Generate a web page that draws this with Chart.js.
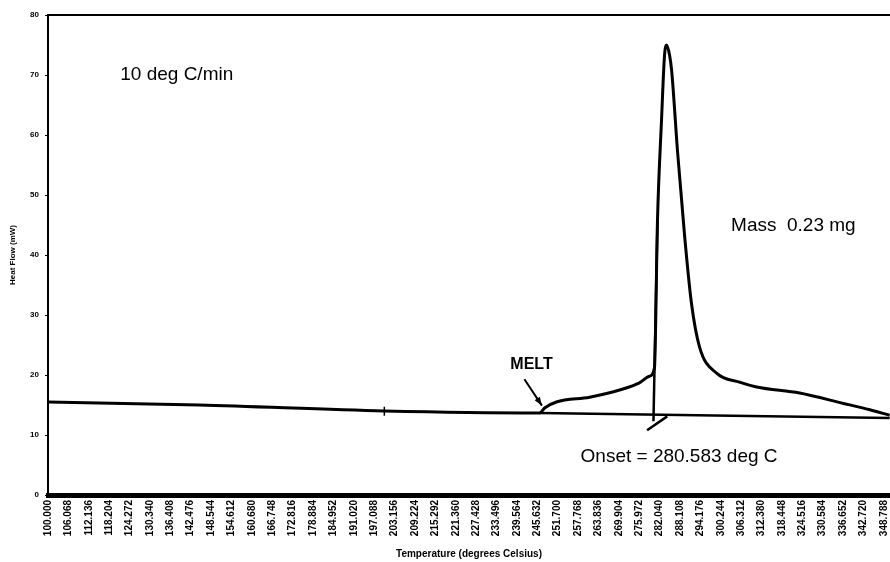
<!DOCTYPE html>
<html>
<head>
<meta charset="utf-8">
<script src="https://cdn.jsdelivr.net/npm/chart.js"></script>
<style>
  html, body { margin: 0; padding: 0; background: #fff; }
  #wrap { width: 890px; height: 562px; position: relative; }
</style>
</head>
<body>
<div id="wrap"><canvas id="dsc"></canvas></div>
<script>
// DSC trace
const temps = [100, 145.0, 200.1, 246.3, 247.8, 251.3, 261.2, 270.1, 276.0, 279.0, 280.5,
  281.4, 282.6, 283.5, 284.1, 285.0, 285.6, 287.4, 289.5, 291.5, 293.9, 299.0, 305.8,
  310.9, 323.7, 336.5, 344.6, 350.5];
const heatFlow = [15.5, 15.0, 14.0, 13.67, 14.5, 15.5, 16.3, 17.5, 18.7, 19.8, 21.2,
  45.8, 62.5, 73.3, 75.0, 73.3, 70.8, 57.0, 43.0, 32.0, 24.7, 20.3, 18.8,
  18.0, 17.0, 15.3, 14.2, 13.3];

// extrapolated baseline + onset construction
const baseTemps = [246.3, 350.5];
const baseFlow = [13.67, 12.83];
const tangentTemps = [280.2, 281.4];
const tangentFlow = [12.3, 45.8];
const slashTemps = [278.3, 284.3];
const slashFlow = [10.8, 13.1];
const markTemps = [200.1, 200.1];
const markFlow = [14.7, 13.2];

// x tick labels (hard to read on the scan, best estimates)
const tickLabels = ['100.000', '106.068', '112.136', '118.204', '124.272', '130.340', '136.408',
  '142.476', '148.544', '154.612', '160.680', '166.748', '172.816', '178.884', '184.952',
  '191.020', '197.088', '203.156', '209.224', '215.292', '221.360', '227.428', '233.496',
  '239.564', '245.632', '251.700', '257.768', '263.836', '269.904', '275.972', '282.040',
  '288.108', '294.176', '300.244', '306.312', '312.380', '318.448', '324.516', '330.584',
  '336.652', '342.720', '348.788'];
const tickValues = tickLabels.map(Number);

function pts(xs, ys) {
  return xs.map((x, i) => ({ x: x, y: ys[i] }));
}

// notes drawn on top of the plot
const notes = {
  id: 'notes',
  afterDraw(chart) {
    const { ctx, chartArea, scales } = chart;
    const x = scales.x, y = scales.y;
    ctx.save();
    // top frame line
    ctx.strokeStyle = '#000';
    ctx.lineWidth = 2;
    ctx.beginPath();
    ctx.moveTo(chartArea.left, chartArea.top);
    ctx.lineTo(chartArea.right, chartArea.top);
    ctx.stroke();

    ctx.fillStyle = '#000';
    ctx.textBaseline = 'middle';
    ctx.font = '19px "Liberation Sans", Arial, sans-serif';
    ctx.fillText('10 deg C/min', x.getPixelForValue(121.5), y.getPixelForValue(70));
    ctx.fillText('Mass  0.23 mg', x.getPixelForValue(303.3), y.getPixelForValue(44.8));
    ctx.fillText('Onset = 280.583 deg C', x.getPixelForValue(258.5), y.getPixelForValue(6.3));
    ctx.font = 'bold 16px "Liberation Sans", Arial, sans-serif';
    ctx.fillText('MELT', x.getPixelForValue(237.6), y.getPixelForValue(21.7));

    // arrow to the melt point
    const x0 = x.getPixelForValue(241.8), y0 = y.getPixelForValue(19.3);
    const x1 = x.getPixelForValue(247.0), y1 = y.getPixelForValue(14.9);
    ctx.lineWidth = 2;
    ctx.beginPath();
    ctx.moveTo(x0, y0);
    ctx.lineTo(x1, y1);
    ctx.stroke();
    const a = Math.atan2(y1 - y0, x1 - x0);
    ctx.beginPath();
    ctx.moveTo(x1, y1);
    ctx.lineTo(x1 - 9 * Math.cos(a - 0.35), y1 - 9 * Math.sin(a - 0.35));
    ctx.lineTo(x1 - 9 * Math.cos(a + 0.35), y1 - 9 * Math.sin(a + 0.35));
    ctx.closePath();
    ctx.fill();
    ctx.restore();
  }
};

const lineStyle = {
  borderColor: '#000',
  pointRadius: 0,
  fill: false
};

const font = '"Liberation Sans", Arial, sans-serif';

new Chart(document.getElementById('dsc'), {
  type: 'line',
  data: {
    datasets: [
      Object.assign({ data: pts(temps, heatFlow), borderWidth: 3, cubicInterpolationMode: 'monotone' }, lineStyle),
      Object.assign({ data: pts(baseTemps, baseFlow), borderWidth: 2.5 }, lineStyle),
      Object.assign({ data: pts(tangentTemps, tangentFlow), borderWidth: 2.5 }, lineStyle),
      Object.assign({ data: pts(slashTemps, slashFlow), borderWidth: 2.5 }, lineStyle),
      Object.assign({ data: pts(markTemps, markFlow), borderWidth: 1.5 }, lineStyle)
    ]
  },
  options: {
    responsive: true,
    maintainAspectRatio: false,
    animation: false,
    layout: { padding: { top: 15, right: 0, left: 0, bottom: 0 } },
    plugins: {
      legend: { display: false },
      tooltip: { enabled: false }
    },
    scales: {
      x: {
        type: 'linear',
        min: 100,
        max: 350.6,
        afterBuildTicks(axis) {
          axis.ticks = tickValues.map(v => ({ value: v }));
        },
        afterFit(scale) {
          scale.height = 67;
          scale.paddingLeft = 0;
          scale.paddingRight = 0;
        },
        ticks: {
          autoSkip: false,
          minRotation: 90,
          maxRotation: 90,
          padding: 2,
          color: '#000',
          font: { family: font, size: 10, weight: 'bold' },
          callback: (v, i) => tickLabels[i]
        },
        grid: { display: true, drawOnChartArea: false, tickLength: 3, color: '#000' },
        border: { color: '#000', width: 5 },
        title: {
          display: true,
          text: 'Temperature (degrees Celsius)',
          color: '#000',
          font: { family: font, size: 10, weight: 'bold' },
          padding: { top: 0, bottom: 2 }
        }
      },
      y: {
        min: 0,
        max: 80,
        afterFit(scale) {
          scale.width = 48;
          scale.paddingTop = 0;
          scale.paddingBottom = 0;
        },
        ticks: {
          stepSize: 10,
          padding: 6,
          color: '#000',
          font: { family: font, size: 8, weight: 'bold' }
        },
        grid: { display: true, drawOnChartArea: false, tickLength: 3, color: '#000' },
        border: { color: '#000', width: 2 },
        title: {
          display: true,
          text: 'Heat Flow (mW)',
          color: '#000',
          font: { family: font, size: 8, weight: 'bold' },
          padding: { top: 8, bottom: 2 }
        }
      }
    }
  },
  plugins: [notes]
});
</script>
</body>
</html>
